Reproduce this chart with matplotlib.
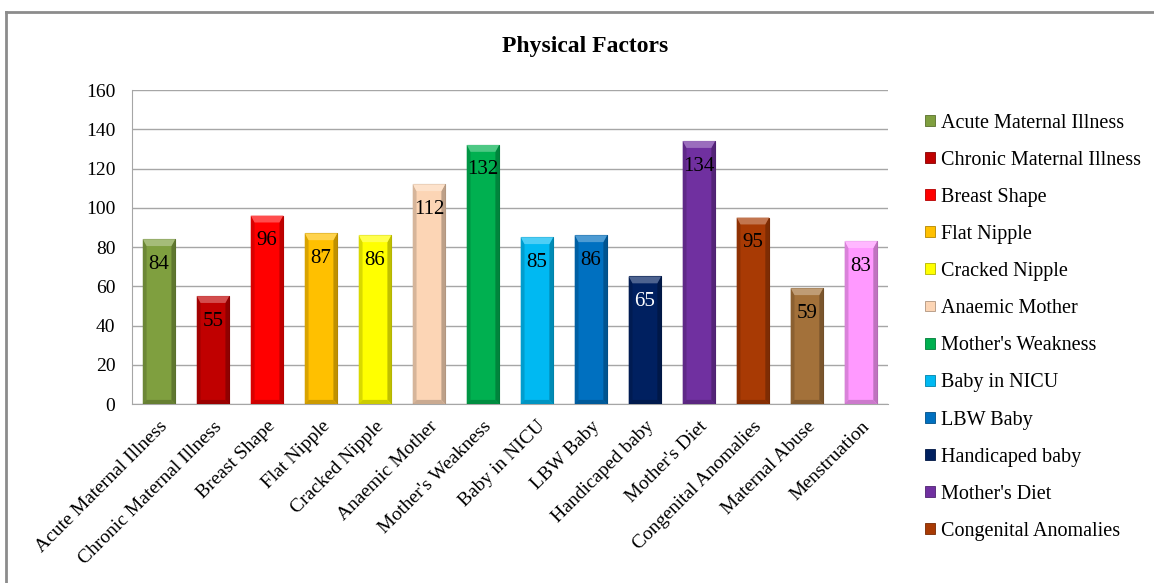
import numpy as np
import matplotlib.pyplot as plt
from matplotlib.patches import Polygon, Patch
from matplotlib.lines import Line2D
from matplotlib.colors import to_rgb

plt.rcParams['font.family'] = ['Liberation Serif', 'DejaVu Serif']

# Counts for each physical factor
factors = ["Acute Maternal Illness", "Chronic Maternal Illness", "Breast Shape",
           "Flat Nipple", "Cracked Nipple", "Anaemic Mother", "Mother's Weakness",
           "Baby in NICU", "LBW Baby", "Handicaped baby", "Mother's Diet",
           "Congenital Anomalies", "Maternal Abuse", "Menstruation"]
counts = [84, 55, 96, 87, 86, 112, 132, 85, 86, 65, 134, 95, 59, 83]
colors = ["#7F9F3F", "#C00000", "#FF0000", "#FFC000", "#FFFF00", "#FCD5B5",
          "#00B050", "#00B9F2", "#0070C0", "#002060", "#7030A0", "#A83A04",
          "#A3713A", "#FF99FF"]
label_colors = ["black"] * 9 + ["white"] + ["black"] * 4
legend_count = 12


def shade(c, f):
    r = np.array(to_rgb(c))
    if f < 0:
        return tuple(r * (1 + f))
    return tuple(r + (1 - r) * f)


fig = plt.figure(figsize=(11.54, 5.83), dpi=100)
ax = fig.add_axes([0.1144, 0.307, 0.655, 0.5386])

x = np.arange(len(factors))
width = 0.6
bars = ax.bar(x, counts, width=width, color=colors, edgecolor=[shade(c, -0.3) for c in colors],
              linewidth=0.8, zorder=3)

# bevel edges on each bar
bx = 0.07
by = 3.5
for rect, c in zip(bars, colors):
    x0 = rect.get_x()
    x1 = x0 + rect.get_width()
    h = rect.get_height()
    sides = [
        ([(x0, 0), (x0 + bx, by * 0.6), (x0 + bx, h - by), (x0, h)], shade(c, -0.15)),
        ([(x1, 0), (x1 - bx, by * 0.6), (x1 - bx, h - by), (x1, h)], shade(c, -0.25)),
        ([(x0, h), (x1, h), (x1 - bx, h - by), (x0 + bx, h - by)], shade(c, 0.3)),
        ([(x0, 0), (x1, 0), (x1 - bx, by * 0.6), (x0 + bx, by * 0.6)], shade(c, -0.2)),
    ]
    for pts, fc in sides:
        ax.add_patch(Polygon(pts, closed=True, facecolor=fc, edgecolor='none', zorder=4))

for rect, v, lc in zip(bars, counts, label_colors):
    ax.annotate(str(v), (rect.get_x() + rect.get_width() / 2, v), xytext=(0, -18),
                textcoords='offset points', ha='center', va='center',
                fontsize=15, color=lc, zorder=5)

ax.set_ylim(0, 160)
ax.set_yticks(range(0, 161, 20))
ax.set_xlim(-0.5, len(factors) - 0.5)
ax.set_xticks(x)
ax.set_xticklabels(factors, rotation=45, ha='right', va='top', rotation_mode='anchor')
ax.tick_params(axis='y', length=0, labelsize=14)
ax.tick_params(axis='x', length=0, labelsize=14, pad=10)
ax.tick_params(axis='y', pad=12)
ax.grid(axis='y', color='#A6A6A6', linewidth=1, zorder=0)
ax.set_axisbelow(True)
for s in ['top', 'right']:
    ax.spines[s].set_visible(False)
for s in ['left', 'bottom']:
    ax.spines[s].set_color('#A6A6A6')

fig.text(0.507, 0.92, "Physical Factors", ha='center', va='center',
         fontsize=17, fontweight='bold')

handles = [Patch(facecolor=c, edgecolor=shade(c, -0.3), linewidth=0.6) for c in colors[:legend_count]]
fig.legend(handles, factors[:legend_count], loc='upper left', bbox_to_anchor=(0.795, 0.819),
           frameon=False, fontsize=14.5, handlelength=0.45, handleheight=0.45,
           handletextpad=0.3, labelspacing=0.9, borderaxespad=0)

# outer chart frame
fig.add_artist(Line2D([0.0052, 0.0052], [0, 0.979], color='#8C8C8C', linewidth=2))
fig.add_artist(Line2D([0.0052, 1], [0.979, 0.979], color='#8C8C8C', linewidth=2))

fig.savefig("out.png", dpi=100)
